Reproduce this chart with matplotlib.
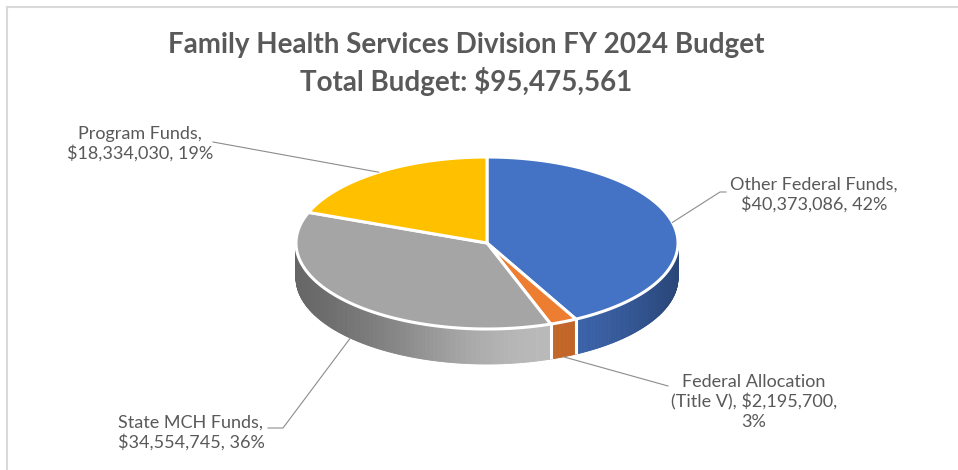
import textwrap

import matplotlib.pyplot as plt
import numpy as np
from matplotlib.patches import Polygon

# budget by funding source, in drawing order (clockwise from 12 o'clock)
sources = ['Other Federal Funds', 'Federal Allocation (Title V)', 'State MCH Funds', 'Program Funds']
amounts = [40373086, 2195700, 34554745, 18334030]
percents = [42, 3, 36, 19]
title_lines = ['Family Health Services Division FY 2024 Budget', 'Total Budget: $95,475,561']

colors = ['#4472C4', '#ED7D31', '#A5A5A5', '#FFC000']
# side shading (dark end, bright end) for each slice
side_gain = [(0.30, 0.88), (0.45, 0.82), (0.55, 1.12), (0.55, 1.0)]

# label placement: text centre and where the leader line leaves the text
label_pos = [(814, 195), (754, 402), (191, 433), (140, 144)]
leader_from = [[(726, 192), (720, 192)], [(668, 386)], [(268, 428), (283, 428)], [(213, 142)]]

cx, cy, rx, ry, depth = 487, 243, 191, 86, 35

plt.rcParams['font.family'] = ['Lato', 'DejaVu Sans']

fig = plt.figure(figsize=(9.58, 4.70), dpi=100)
ax = fig.add_axes([0, 0, 1, 1])
ax.set_xlim(0, 958)
ax.set_ylim(470, 0)
ax.axis('off')

# chart area frame
ax.plot([7, 958], [7, 7], color='#d9d9d9', lw=1.5)
ax.plot([7, 7], [7, 470], color='#d9d9d9', lw=1.5)


def pt(theta, drop=0.0):
    # point on the rim, theta measured clockwise from the top
    return cx + rx * np.sin(theta), cy - ry * np.cos(theta) + drop


fracs = np.array(amounts, dtype=float) / sum(amounts)
edges = np.concatenate([[0], np.cumsum(fracs)]) * 2 * np.pi


def shade(c, g):
    rgb = np.array(plt.matplotlib.colors.to_rgb(c)) * g
    return np.clip(rgb, 0, 1)


# front wall of the pie
for i in range(len(amounts)):
    a0 = max(edges[i], np.pi / 2)
    a1 = min(edges[i + 1], 3 * np.pi / 2)
    if a1 <= a0:
        continue
    lo, hi = side_gain[i]
    ts = np.linspace(a0, a1, max(int(np.degrees(a1 - a0) * 2), 2))
    for t0, t1 in zip(ts[:-1], ts[1:]):
        u = np.sin((t0 + t1) / 2)
        g = lo + (hi - lo) * np.exp(-((u - 0.3) / 0.9) ** 2)
        col = shade(colors[i], g)
        x0, y0 = pt(t0)
        x1, y1 = pt(t1)
        ax.add_patch(Polygon([(x0, y0), (x1, y1), (x1, y1 + depth), (x0, y0 + depth)],
                             closed=True, facecolor=col, edgecolor=col, lw=0.6))

# white seams where slices meet on the wall
for e in edges:
    if np.pi / 2 < e < 3 * np.pi / 2:
        x, y = pt(e)
        ax.plot([x, x], [y, y + depth], color='white', lw=2.2, solid_capstyle='butt')

# top faces
for i in range(len(amounts)):
    ts = np.linspace(edges[i], edges[i + 1], 200)
    verts = [(cx, cy)] + [pt(t) for t in ts]
    ax.add_patch(Polygon(verts, closed=True, facecolor=colors[i], edgecolor='white',
                         lw=2.2, joinstyle='round'))

# data labels with leader lines
for i in range(len(amounts)):
    mid = (edges[i] + edges[i + 1]) / 2
    on_wall = np.cos(mid) < 0
    end = pt(mid, depth if on_wall else 0)
    path = leader_from[i] + [end]
    ax.plot([p[0] for p in path], [p[1] for p in path], color='#8c8c8c', lw=0.8, zorder=1)
    txt = textwrap.fill(f'{sources[i]}, ${amounts[i]:,}, {percents[i]}%', 22)
    ax.text(label_pos[i][0], label_pos[i][1], txt, ha='center', va='center',
            multialignment='center', fontsize=13, color='#595959', linespacing=1.22)

ax.text(466, 45, title_lines[0], ha='center', va='center', fontsize=20,
        fontweight='bold', color='#595959')
ax.text(466, 82, title_lines[1], ha='center', va='center', fontsize=20,
        fontweight='bold', color='#595959')

fig.savefig('out.png', dpi=100, facecolor='white')
